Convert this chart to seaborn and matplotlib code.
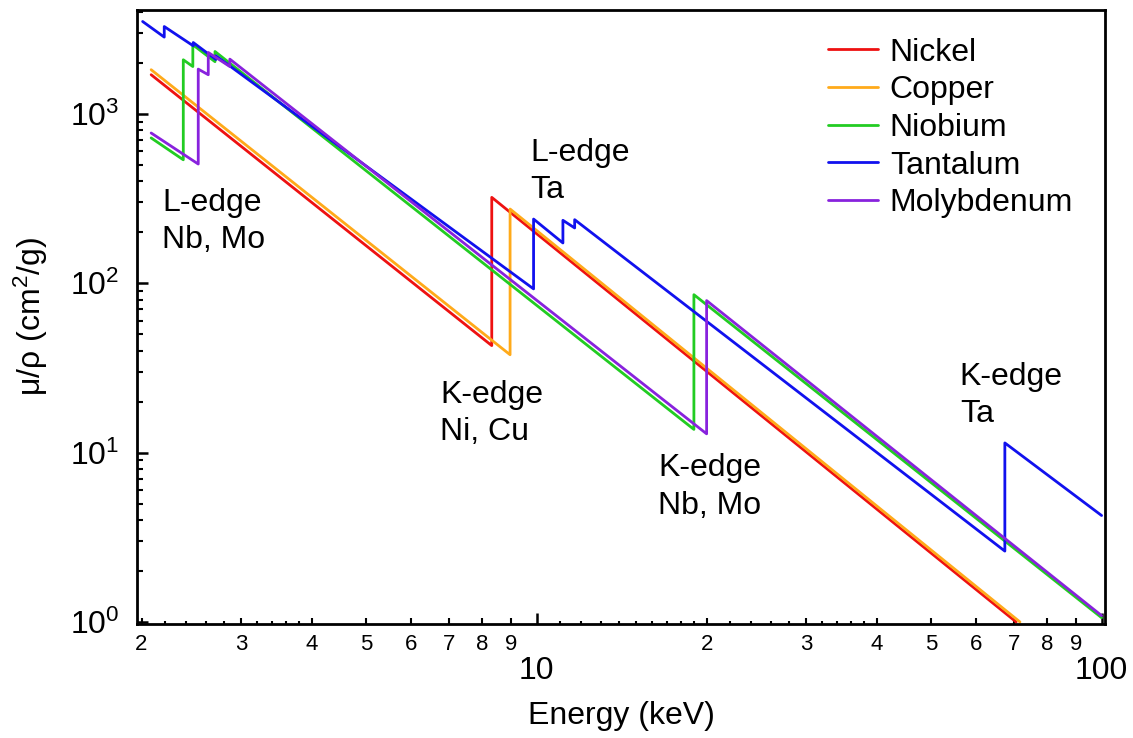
import numpy as np
import pandas as pd
import matplotlib
matplotlib.use("Agg")
import matplotlib.pyplot as plt
import seaborn as sns
from matplotlib.ticker import (FixedLocator, LogLocator, FuncFormatter,
                               NullFormatter, NullLocator, LogFormatterSciNotation)

# Mass attenuation coefficients (cm^2/g) versus photon energy (keV).
# Absorption edges are stored as two points at the same energy.
nickel_energy = [2.08, 8.333, 8.333, 70.6]
nickel_mu = [1700, 42.8, 321, 1.0]

copper_energy = [2.08, 8.979, 8.979, 71.7]
copper_mu = [1820, 37.8, 274, 1.0]

niobium_energy = [2.08, 2.371, 2.371, 2.465, 2.465, 2.698, 2.698, 18.99, 18.99, 100]
niobium_mu = [720, 535, 2083, 1900, 2553, 2030, 2331, 13.7, 85.5, 1.06]

tantalum_energy = [2.009, 2.194, 2.194, 2.469, 2.469, 2.708, 2.708,
                   9.881, 9.881, 11.136, 11.136, 11.682, 11.682, 67.42, 67.42, 100]
tantalum_mu = [3505, 2835, 3273, 2518, 2634, 2090, 2200,
               92.5, 239, 172.7, 235, 211.8, 237, 2.62, 11.4, 4.25]

molybdenum_energy = [2.08, 2.520, 2.520, 2.625, 2.625, 2.866, 2.866, 20.0, 20.0, 100]
molybdenum_mu = [770, 505, 1835, 1700, 2301, 1900, 2102, 12.9, 78.9, 1.09]

materials = ["Nickel", "Copper", "Niobium", "Tantalum", "Molybdenum"]
colors = ["#ee1111", "#ffaa1a", "#22cc22", "#1111ee", "#8822dd"]

# edge annotations: text and position (axes fraction)
edge_labels = ["L-edge\nNb, Mo", "L-edge\nTa", "K-edge\nNi, Cu", "K-edge\nNb, Mo", "K-edge\nTa"]
edge_label_pos = [(0.0255, 0.655), (0.4058, 0.7370), (0.3128, 0.3430),
                  (0.5381, 0.2230), (0.8500, 0.3720)]

series = {
    "Nickel": (nickel_energy, nickel_mu),
    "Copper": (copper_energy, copper_mu),
    "Niobium": (niobium_energy, niobium_mu),
    "Tantalum": (tantalum_energy, tantalum_mu),
    "Molybdenum": (molybdenum_energy, molybdenum_mu),
}
frames = []
for name in materials:
    e, m = series[name]
    frames.append(pd.DataFrame({"Energy": e, "mu": m, "Material": name}))
df = pd.concat(frames, ignore_index=True)

sns.set_theme(style="ticks")
plt.rcParams["font.family"] = ["Liberation Sans", "DejaVu Sans"]
plt.rcParams["mathtext.fontset"] = "custom"
plt.rcParams["mathtext.rm"] = "Liberation Sans"
plt.rcParams["mathtext.it"] = "Liberation Sans:italic"
plt.rcParams["mathtext.bf"] = "Liberation Sans:bold"
for key in ["text.color", "axes.labelcolor", "xtick.color", "ytick.color",
            "axes.edgecolor"]:
    plt.rcParams[key] = "black"

fig = plt.figure(figsize=(11.33, 7.38), dpi=100)
ax = fig.add_axes([0.1212, 0.1545, 0.8541, 0.8320])

sns.lineplot(data=df, x="Energy", y="mu", hue="Material", hue_order=materials,
             palette=colors, sort=False, estimator=None, linewidth=2.0, ax=ax)

ax.set_xscale("log")
ax.set_yscale("log")
ax.set_xlim(1.966, 101.4)
ax.set_ylim(0.973, 4100)

# x ticks: decades labelled large, 2..9 labelled small
ax.xaxis.set_major_locator(FixedLocator([10, 100]))
ax.xaxis.set_major_formatter(FuncFormatter(lambda v, p: f"{v:g}"))
ax.xaxis.set_minor_locator(LogLocator(base=10, subs=np.arange(2, 10)))
ax.xaxis.set_minor_formatter(FuncFormatter(
    lambda v, p: str(int(round(v / 10 ** np.floor(np.log10(v) + 1e-9))))))
ax.tick_params(axis="x", which="major", direction="in", length=8, width=1.8,
               pad=23, labelsize=23)
ax.tick_params(axis="x", which="minor", direction="in", length=4.5, width=1.5,
               pad=7.5, labelsize=16)

# y ticks
ax.yaxis.set_major_locator(LogLocator(base=10))
ax.yaxis.set_major_formatter(LogFormatterSciNotation())
ax.yaxis.set_minor_locator(LogLocator(base=10, subs=np.arange(2, 10)))
ax.yaxis.set_minor_formatter(NullFormatter())
ax.tick_params(axis="y", which="major", direction="in", length=8, width=1.8,
               pad=13, labelsize=23)
ax.tick_params(axis="y", which="minor", direction="in", length=4.5, width=1.5)

# fine sub-ticks along the energy axis
sub = ax.secondary_xaxis("bottom")
sub.xaxis.set_major_locator(FixedLocator(
    [2.2, 2.4, 2.6, 2.8, 3.2, 3.4, 3.6, 3.8,
     11, 12, 13, 14, 15, 16, 17, 18, 19, 22, 24, 26, 28, 32, 34, 36, 38]))
sub.xaxis.set_minor_locator(NullLocator())
sub.tick_params(direction="in", length=2.5, width=1.5, labelbottom=False)
sub.spines["bottom"].set_visible(False)

for s in ax.spines.values():
    s.set_linewidth(2.0)
    s.set_color("black")

ax.set_xlabel("Energy (keV)", fontsize=23, labelpad=11)
ax.set_ylabel("μ/ρ (cm$^2$/g)", fontsize=23, labelpad=14)

for txt, (tx, ty) in zip(edge_labels, edge_label_pos):
    ax.text(tx, ty, txt, transform=ax.transAxes, ha="left", va="center",
            fontsize=23, linespacing=1.32)

handles, labels = ax.get_legend_handles_labels()
ax.legend(handles, labels, loc="upper left", bbox_to_anchor=(0.7138, 0.955),
          frameon=False, fontsize=23, borderpad=0, borderaxespad=0,
          handlelength=1.56, handletextpad=0.375, labelspacing=0.24)

fig.savefig("out.png", dpi=100)
